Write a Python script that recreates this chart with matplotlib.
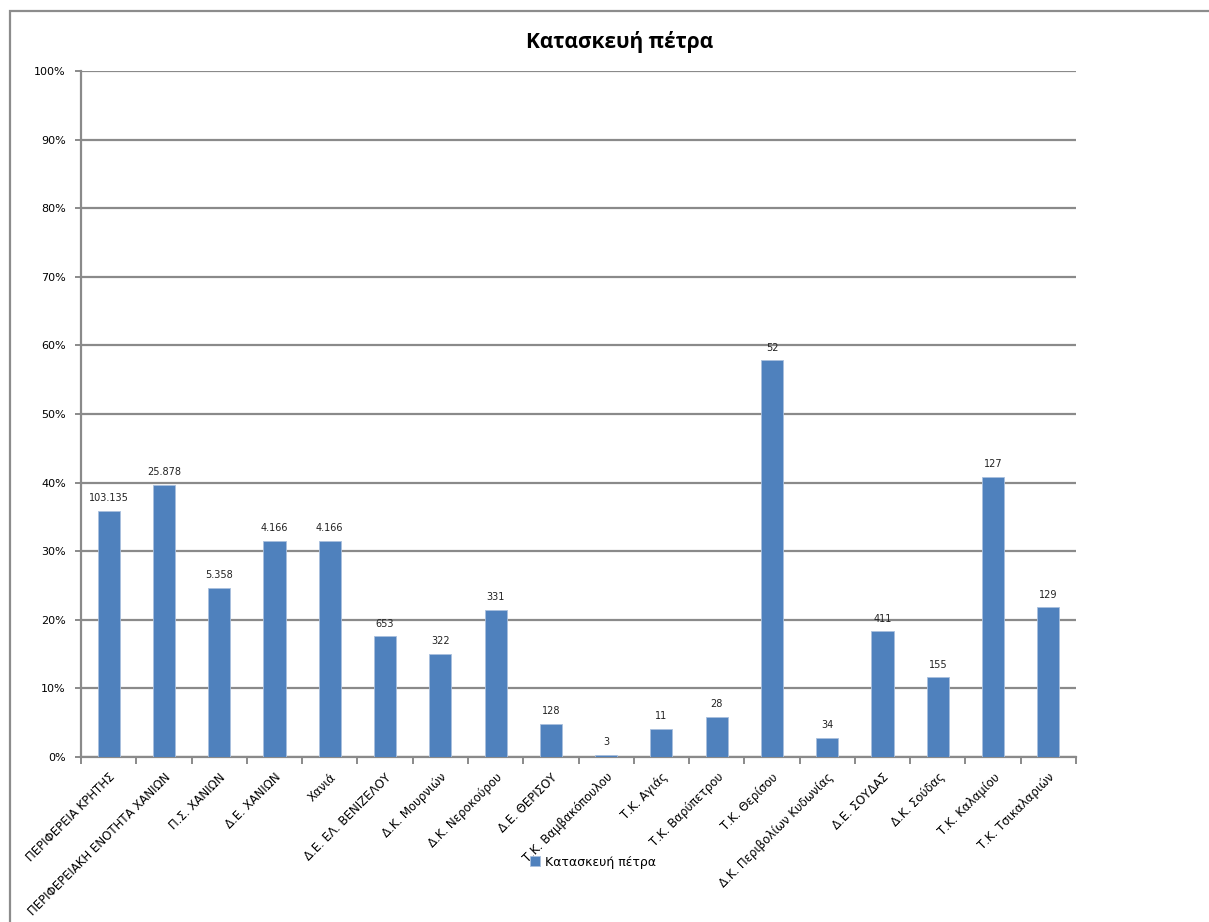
import matplotlib
matplotlib.use("Agg")
import matplotlib.pyplot as plt
from matplotlib.patches import Rectangle
import numpy as np

## Data
categories = [
    "ΠΕΡΙΦΕΡΕΙΑ ΚΡΗΤΗΣ", "ΠΕΡΙΦΕΡΕΙΑΚΗ ΕΝΟΤΗΤΑ ΧΑΝΙΩΝ", "Π.Σ. ΧΑΝΙΩΝ",
    "Δ.Ε. ΧΑΝΙΩΝ", "Χανιά", "Δ.Ε. ΕΛ. ΒΕΝΙΖΕΛΟΥ", "Δ.Κ. Μουρνιών",
    "Δ.Κ. Νεροκούρου", "Δ.Ε. ΘΕΡΙΣΟΥ", "Τ.Κ. Βαμβακόπουλου", "Τ.Κ. Αγιάς",
    "Τ.Κ. Βαρύπετρου", "Τ.Κ. Θερίσου", "Δ.Κ. Περιβολίων Κυδωνίας",
    "Δ.Ε. ΣΟΥΔΑΣ", "Δ.Κ. Σούδας", "Τ.Κ. Καλαμίου", "Τ.Κ. Τσικαλαριών",
]
share = [35.9, 39.7, 24.7, 31.5, 31.5, 17.6, 15.0, 21.5, 4.8,
         0.3, 4.1, 5.9, 57.8, 2.8, 18.3, 11.6, 40.8, 21.8]
counts = ["103.135", "25.878", "5.358", "4.166", "4.166", "653", "322",
          "331", "128", "3", "11", "28", "52", "34", "411", "155", "127", "129"]
series_name = "Κατασκευή πέτρα"
yticks = list(range(0, 101, 10))

## Figure
W, H = 1209, 922
fig = plt.figure(figsize=(W / 100, H / 100), dpi=100)
fig.patches.append(Rectangle((10 / W, -0.1), 2, (1 - 11 / H) + 0.1,
                             transform=fig.transFigure, fill=False,
                             edgecolor="#8c8c8c", linewidth=1.6))

ax = fig.add_axes([81 / W, 1 - 757 / H, (1076 - 81) / W, (757 - 71) / H])
grey = "#8a8a8a"
x = np.arange(len(categories))
bars = ax.bar(x, share, width=0.4, color="#4f81bd", edgecolor="#a9c0de",
              linewidth=0.6, zorder=3)

for b, lab in zip(bars, counts):
    ax.annotate(lab, (b.get_x() + b.get_width() / 2, b.get_height()),
                xytext=(0, 5.5), textcoords="offset points", ha="center",
                va="bottom", fontsize=7, color="#222222")

ax.set_xlim(-0.5, len(categories) - 0.5)
ax.set_ylim(0, 100)
ax.set_yticks(yticks)
ax.set_yticklabels([f"{v}%" for v in yticks], fontsize=8)
ax.yaxis.grid(True, color=grey, linewidth=1.6, zorder=0)
ax.tick_params(axis="y", length=4, width=1.4, color=grey, pad=7)

ax.set_xticks(np.arange(len(categories) + 1) - 0.5, minor=False)
ax.set_xticklabels([])
ax.set_xticks(x, minor=True)
ax.set_xticklabels(categories, minor=True, rotation=45, ha="right",
                   va="top", rotation_mode="anchor", fontsize=8.5)
ax.tick_params(axis="x", which="major", length=5, width=1.4, color=grey)
ax.tick_params(axis="x", which="minor", length=0, pad=10)

for side in ["top", "right"]:
    ax.spines[side].set_visible(False)
for side in ["left", "bottom"]:
    ax.spines[side].set_color(grey)
    ax.spines[side].set_linewidth(1.6)

fig.text(620 / W, 1 - 42 / H, series_name, ha="center", va="center",
         fontsize=15, fontweight="bold", family="Open Sans")

leg = fig.legend([bars], [series_name], loc="center",
                 bbox_to_anchor=(593 / W, 1 - 862 / H), frameon=False,
                 fontsize=9, handlelength=0.8, handleheight=0.8,
                 handletextpad=0.4)

fig.savefig("out.png", dpi=100)
